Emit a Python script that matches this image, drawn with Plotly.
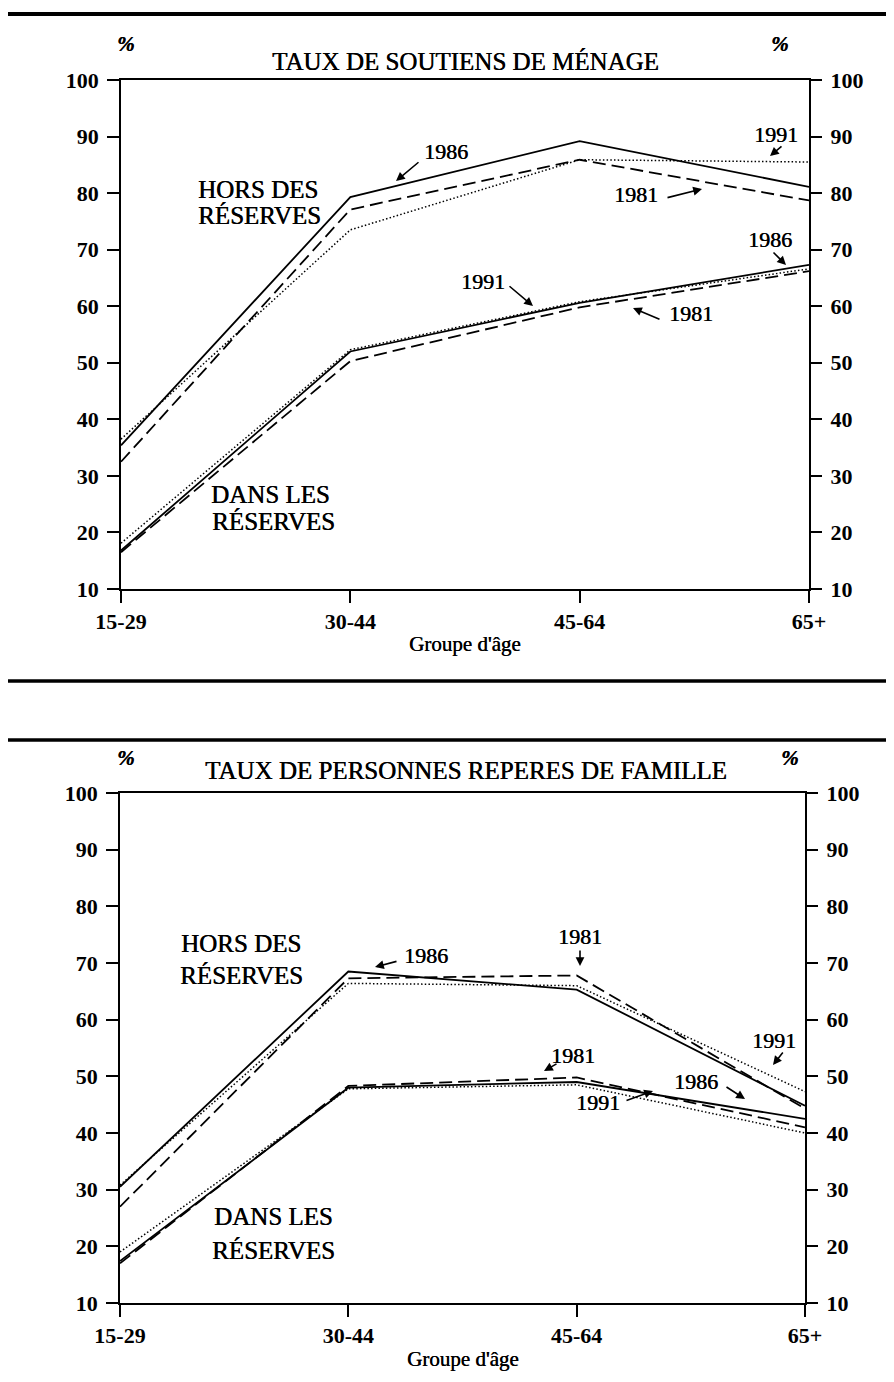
import plotly.graph_objects as go

# ---------------- data ----------------
ages = ["15-29", "30-44", "45-64", "65+"]
y_ticks = [10, 20, 30, 40, 50, 60, 70, 80, 90, 100]

# Taux de soutiens de ménage
sm_hors_1981 = [32.5, 77.1, 85.9, 78.7]
sm_hors_1986 = [35.4, 79.3, 89.2, 81.1]
sm_hors_1991 = [36.5, 73.5, 85.9, 85.5]
sm_dans_1981 = [16.5, 50.3, 59.8, 66.2]
sm_dans_1986 = [16.8, 52.0, 60.6, 67.3]
sm_dans_1991 = [18.1, 52.3, 60.8, 66.6]

# Taux de personnes repères de famille
pr_hors_1981 = [27.0, 67.3, 67.8, 44.3]
pr_hors_1986 = [30.5, 68.5, 65.3, 44.8]
pr_hors_1991 = [30.8, 66.4, 66.0, 47.3]
pr_dans_1981 = [17.0, 48.3, 49.8, 41.0]
pr_dans_1986 = [17.4, 48.0, 49.0, 42.5]
pr_dans_1991 = [19.0, 47.8, 48.5, 40.0]

title_top = "TAUX DE SOUTIENS DE MÉNAGE"
title_bot = "TAUX DE PERSONNES REPERES DE FAMILLE"
x_title = "Groupe d'âge"

# ---------------- layout helpers ----------------
W, H = 894, 1382
def px(x):
    return x / W
def py(y):
    return 1 - y / H

FONT = "Liberation Serif"
INK = "0.45px 0px 0px black"   # slightly heavier, scanned-print look
styles = {
    "1981": dict(color="black", width=1.8, dash="13px,6px"),
    "1986": dict(color="black", width=1.8),
    "1991": dict(color="black", width=1.5, dash="1.5px,2.2px"),
}

fig = go.Figure()

def add_series(xa, ya, series):
    for year, vals in series:
        fig.add_trace(go.Scatter(x=ages, y=vals, mode="lines", line=styles[year],
                                 xaxis=xa, yaxis=ya, showlegend=False, hoverinfo="skip"))

add_series("x", "y", [("1981", sm_hors_1981), ("1986", sm_hors_1986), ("1991", sm_hors_1991),
                      ("1981", sm_dans_1981), ("1986", sm_dans_1986), ("1991", sm_dans_1991)])
add_series("x2", "y3", [("1981", pr_hors_1981), ("1986", pr_hors_1986), ("1991", pr_hors_1991),
                        ("1981", pr_dans_1981), ("1986", pr_dans_1986), ("1991", pr_dans_1991)])
# invisible traces to activate right-hand axes
fig.add_trace(go.Scatter(x=ages, y=sm_hors_1986, mode="markers", marker=dict(opacity=0),
                         xaxis="x", yaxis="y2", showlegend=False, hoverinfo="skip"))
fig.add_trace(go.Scatter(x=ages, y=pr_hors_1986, mode="markers", marker=dict(opacity=0),
                         xaxis="x2", yaxis="y4", showlegend=False, hoverinfo="skip"))

tick_font = dict(family=FONT, size=22, color="black", weight="bold")

def xaxis(dom, anchor):
    return dict(domain=dom, anchor=anchor, type="category", range=[0, 3],
                showline=True, linecolor="black", linewidth=1.8, mirror=True,
                ticks="outside", ticklen=12, tickwidth=1.5, tickcolor="black",
                showgrid=False, zeroline=False, tickfont=tick_font, automargin=False,
                fixedrange=True)

def yaxis_left(dom, anchor):
    return dict(domain=dom, anchor=anchor, range=[10, 100], tickvals=y_ticks,
                showline=True, linecolor="black", linewidth=1.8, mirror=True,
                ticks="outside", ticklen=12, tickwidth=1.5, tickcolor="black",
                showgrid=False, zeroline=False, tickfont=tick_font, automargin=False,
                ticklabelstandoff=4)

def yaxis_right(dom, anchor, over):
    return dict(domain=dom, anchor=anchor, overlaying=over, side="right",
                range=[10, 100], tickvals=y_ticks, showline=False,
                ticks="outside", ticklen=12, tickwidth=1.5, tickcolor="black",
                showgrid=False, zeroline=False, tickfont=tick_font, automargin=False,
                ticklabelstandoff=4)

top_x = [px(113), px(801)]
top_y = [py(581), py(72)]
bot_x = [px(112), px(797)]
bot_y = [py(1295), py(785)]

fig.update_layout(
    width=W, height=H, margin=dict(l=0, r=0, t=0, b=0),
    paper_bgcolor="white", plot_bgcolor="white",
    xaxis=xaxis(top_x, "y"),
    yaxis=yaxis_left(top_y, "x"),
    yaxis2=yaxis_right(top_y, "x", "y"),
    xaxis2=xaxis(bot_x, "y3"),
    yaxis3=yaxis_left(bot_y, "x2"),
    yaxis4=yaxis_right(bot_y, "x2", "y3"),
    font=dict(family=FONT, color="black"),
)

# horizontal rules separating the panels
shapes = []
for yy, w in [(6, 4), (673, 3.5), (732, 3.5)]:
    shapes.append(dict(type="line", xref="paper", yref="paper", x0=0, x1=1,
                       y0=py(yy), y1=py(yy), line=dict(color="black", width=w)))
fig.update_layout(shapes=shapes)

ann = []
def text(x, y, s, size=22, **kw):
    d = dict(xref="paper", yref="paper", x=px(x), y=py(y), text=s, showarrow=False,
             xanchor="center", yanchor="middle",
             font=dict(family=FONT, size=size, color="black", shadow=INK))
    d.update(kw)
    ann.append(d)

def arrow(tail, tip):
    ann.append(dict(xref="paper", yref="paper", x=px(tip[0]), y=py(tip[1]), text="",
                    showarrow=True, ax=tail[0] - tip[0], ay=tail[1] - tip[1],
                    axref="pixel", ayref="pixel", arrowhead=2, arrowsize=1.1,
                    arrowwidth=1.6, arrowcolor="black", standoff=0, startstandoff=0))

# --- top panel texts
text(458, 54, title_top, size=25)
text(118, 36, "<b><i>%</i></b>", size=21)
text(772, 36, "<b><i>%</i></b>", size=21)
text(457, 636, x_title, size=21)
text(250, 181, "HORS DES", size=25)
text(252, 207, "RÉSERVES", size=25)
text(262, 487, "DANS LES", size=25)
text(265, 513, "RÉSERVES", size=25)
text(438, 143, "1986"); arrow((412, 153), (388, 173))
text(628, 186, "1981"); arrow((658, 190), (694, 181))
text(768, 126, "1991"); arrow((775, 137), (762, 148))
text(762, 231, "1986"); arrow((764, 243), (778, 257))
text(475, 273, "1991"); arrow((500, 277), (525, 298))
text(683, 305, "1981"); arrow((653, 312), (625, 300))

# --- bottom panel texts
text(458, 762, title_bot, size=25)
text(118, 750, "<b><i>%</i></b>", size=21)
text(782, 750, "<b><i>%</i></b>", size=21)
text(455, 1351, x_title, size=21)
text(233, 935, "HORS DES", size=25)
text(233, 967, "RÉSERVES", size=25)
text(265, 1208, "DANS LES", size=25)
text(265, 1242, "RÉSERVES", size=25)
text(418, 947, "1986"); arrow((390, 953), (367, 959))
text(572, 929, "1981"); arrow((572, 941), (572, 958))
text(766, 1032, "1991"); arrow((776, 1043), (765, 1057))
text(688, 1073, "1986"); arrow((717, 1078), (737, 1091))
text(565, 1047, "1981"); arrow((550, 1055), (536, 1063))
text(590, 1094, "1991"); arrow((617, 1093), (645, 1083))

fig.update_layout(annotations=ann)

fig.write_html("out.html")
